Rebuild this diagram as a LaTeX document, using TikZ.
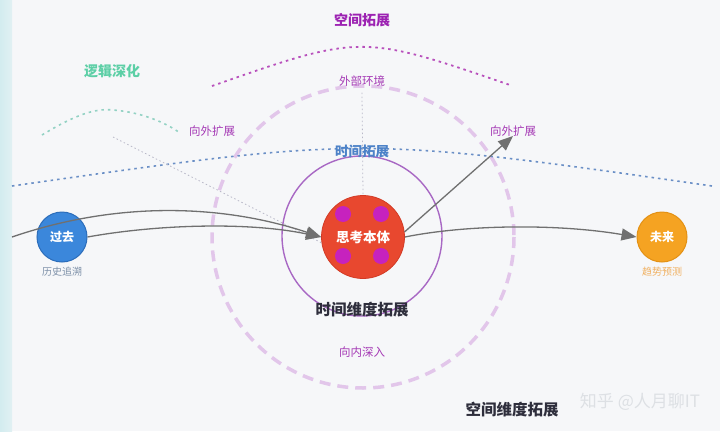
\documentclass[tikz,border=0pt]{standalone}
\usepackage{fontspec}
\setmainfont{Noto Sans CJK SC}
\newfontfamily\cjk{Noto Sans CJK SC}
\usetikzlibrary{arrows.meta}
\definecolor{bgc}{HTML}{F6F7F9}
\definecolor{stripc}{HTML}{D3ECEF}
\definecolor{redc}{HTML}{E8482F}
\definecolor{redb}{HTML}{D23A25}
\definecolor{dotc}{HTML}{C622BE}
\definecolor{ringc}{HTML}{A868C4}
\definecolor{dashc}{HTML}{E2C6EA}
\definecolor{arcc}{HTML}{B850BC}
\definecolor{bluedot}{HTML}{6A8FC6}
\definecolor{tealdot}{HTML}{93D2C4}
\definecolor{greydot}{HTML}{B8B8C8}
\definecolor{purpt}{HTML}{9C22B2}
\definecolor{purpl}{HTML}{A53AB5}
\definecolor{tealt}{HTML}{5CCFA6}
\definecolor{bluet}{HTML}{4C82C8}
\definecolor{pastc}{HTML}{3B87DB}
\definecolor{pastb}{HTML}{2C6DBA}
\definecolor{futc}{HTML}{F5A322}
\definecolor{futb}{HTML}{E39115}
\definecolor{histc}{HTML}{7D90A8}
\definecolor{trendc}{HTML}{F0B060}
\definecolor{darkt}{HTML}{2E2E3C}
\definecolor{arrc}{HTML}{707070}
\definecolor{wmc}{HTML}{DDE0E4}
\tikzset{
  lbl/.style={font=\fontsize{11.5}{12}\selectfont, inner sep=0pt},
  ttl/.style={font=\fontsize{15.5}{16}\selectfont\bfseries, text=darkt, inner sep=0pt},
  conn/.style={draw=arrc, line width=1.3pt, -{Triangle[length=15pt,width=12pt]}},
  timenode/.style={circle, minimum size=50pt, inner sep=0pt, line width=1pt, text=white, font=\fontsize{12}{12}\selectfont\bfseries},
  innerdot/.style={fill=dotc, draw=none}
}
\begin{document}
\begin{tikzpicture}[x=1pt,y=-1pt]
\useasboundingbox (0,0) rectangle (720,431);
\fill[bgc] (0,0) rectangle (720,431);
\shade[left color=stripc, right color=stripc!60!bgc] (0,0) rectangle (12,431);

% big dashed circle
\draw[dashc, line width=3.5pt, dash pattern=on 11pt off 7pt] (363,237) circle (151);
% top dotted arc
\draw[arcc, line width=1.8pt, dash pattern=on 2.5pt off 4pt] (212,86) .. controls (361,34) .. (510,85);
% blue dotted horizon
\draw[bluedot, line width=1.6pt, dash pattern=on 2.5pt off 4pt] (12,186) .. controls (362,136) .. (712,186);
% teal wave
\draw[tealdot, line width=1.6pt, dash pattern=on 2.5pt off 4pt] (42,135) .. controls (75,115) and (95,108) .. (113,110) .. controls (140,112) and (165,122) .. (180,133);
% inner solid ring
\draw[ringc, line width=1.4pt] (362,236) circle (80);

% labels
\node[lbl, text=purpt, font=\fontsize{14}{14}\selectfont\bfseries] (space) at (362,20) {空间拓展};
\node[lbl, text=tealt, font=\fontsize{14}{14}\selectfont\bfseries] (logic) at (112,71) {逻辑深化};
\node[lbl, text=purpl] (env) at (362,81) {外部环境};
\node[lbl, text=purpl] (outl) at (212,131) {向外扩展};
\node[lbl, text=purpl] (outr) at (513,131) {向外扩展};
\node[lbl, text=bluet, font=\fontsize{13.5}{14}\selectfont\bfseries] (timex) at (362,151) {时间拓展};
\node[ttl] (timedim) at (362,310) {时间维度拓展};
\node[lbl, text=purpl] (inward) at (362,352) {向内深入};
\node[ttl] (spacedim) at (512,410) {空间维度拓展};
\node[inner sep=0pt, text=wmc, font=\fontsize{17}{17}\selectfont] (wm) at (640,402) {知乎 @人月聊IT};

% central node
\node[circle, minimum size=83pt, inner sep=0pt, fill=redc, draw=redb, line width=0.8pt] (self) at (363,237) {};
\fill[innerdot] (343,214) circle (8);
\fill[innerdot] (381,214) circle (8);
\fill[innerdot] (343,256) circle (8);
\fill[innerdot] (381,256) circle (8);
\node[text=white, font=\fontsize{13.5}{14}\selectfont\bfseries, inner sep=0pt] (selft) at (363,237) {思考本体};

% time nodes
\node[timenode, fill=pastc, draw=pastb] (past) at (62,237) {过去};
\node[inner sep=0pt, text=histc, font=\fontsize{10}{10}\selectfont] (hist) at (62,272) {历史追溯};
\node[timenode, fill=futc, draw=futb] (fut) at (662,237) {未来};
\node[inner sep=0pt, text=trendc, font=\fontsize{10}{10}\selectfont] (trend) at (662,272) {趋势预测};

% faint dotted guides
\coordinate (gstart) at (113,137);
\draw[greydot, line width=0.8pt, dash pattern=on 1.5pt off 2.5pt] (gstart) -- (self.188);
\draw[greydot, line width=0.8pt, dash pattern=on 1.5pt off 2.5pt] (env.south) ++(0,6) -- (self.north);

% connectors
\coordinate (edge) at (12,237);
\coordinate (outtip) at (513,136);
\draw[conn] (edge) .. controls (120,200) and (225,205) .. (self.west);
\draw[conn] (past.east) .. controls (160,224) and (250,222) .. (self.west);
\draw[conn] (self.east) .. controls (470,224) and (560,224) .. (fut.west);
\draw[conn] (self.7) -- (outtip);
\end{tikzpicture}
\end{document}
